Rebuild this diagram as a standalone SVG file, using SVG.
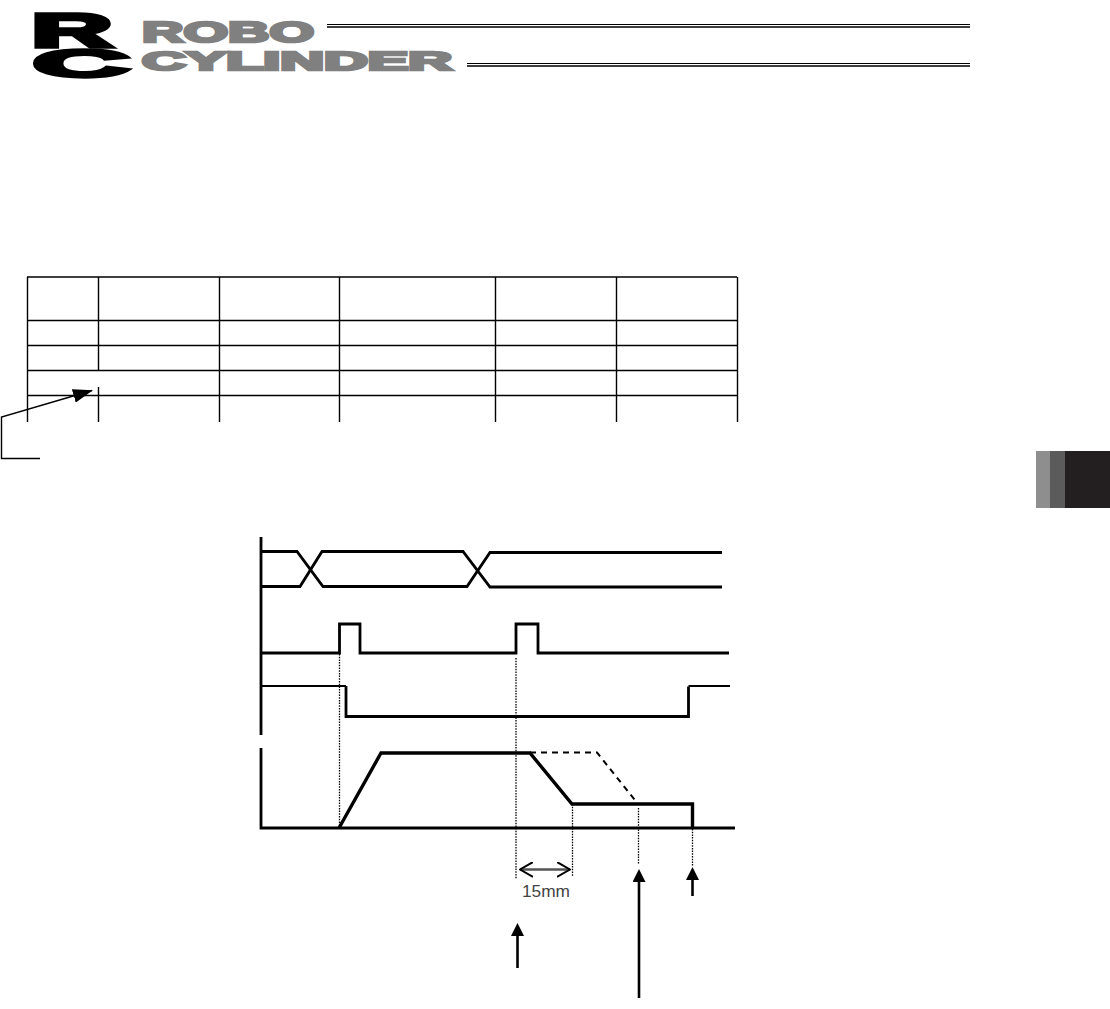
<svg xmlns="http://www.w3.org/2000/svg" width="1110" height="1009" viewBox="0 0 1110 1009">
<defs>
<marker id="solid" viewBox="0 0 13 13" refX="0" refY="6.5" markerWidth="13" markerHeight="13" markerUnits="userSpaceOnUse" orient="auto"><path d="M0 0L13 6.500L0 13Z" fill="#000"/></marker>
<marker id="lead" viewBox="0 0 20 14" refX="19" refY="7" markerWidth="20" markerHeight="14" markerUnits="userSpaceOnUse" orient="auto"><path d="M0 0L20 7L0 14Z" fill="#000"/></marker>
<marker id="open" viewBox="0 0 14 16" refX="13" refY="8" markerWidth="14" markerHeight="16" markerUnits="userSpaceOnUse" orient="auto-start-reverse"><path d="M0 .5L13 8L0 15.500" fill="none" stroke="#000" stroke-width="2"/></marker>
</defs>
<style>
.thin{fill:none;stroke:#000;stroke-width:1.4}
.wave{fill:none;stroke:#000;stroke-width:2.8;stroke-linejoin:miter}
.shaft{fill:none;stroke:#000;stroke-width:2.6}
.heavy{fill:none;stroke:#000;stroke-width:3.4;stroke-linejoin:miter}
.mid{fill:none;stroke:#000;stroke-width:2}
.dot{fill:none;stroke:#000;stroke-width:1.3;stroke-dasharray:1.5 1.2}
.logo{font-family:"Liberation Sans",Arial,sans-serif;font-weight:700}
.grey{fill:#808080;stroke:#808080;stroke-width:2.6;stroke-linejoin:miter}
.blk{fill:#000;stroke:#000;stroke-width:5}
</style>
<rect width="1110" height="1009" fill="#fff"/>
<g id="logo">
<text class="logo blk" transform="translate(31 47) scale(1.32 .7)" font-size="68" x="0" y="0" textLength="62" lengthAdjust="spacingAndGlyphs">R</text>
<text class="logo blk" transform="translate(33 76.500) scale(1.42 .66)" font-size="60" x="0" y="0" textLength="68" lengthAdjust="spacingAndGlyphs">C</text>
<text class="logo grey" x="142" y="42" font-size="29" textLength="172" lengthAdjust="spacingAndGlyphs">ROBO</text>
<text class="logo grey" x="142" y="69.500" font-size="26" textLength="310" lengthAdjust="spacingAndGlyphs">CYLINDER</text>
<path d="M327 24.500H970M467 63.500H970" stroke="#000" stroke-width="1" fill="none"/>
<path d="M327 27H970M467 66H970" stroke="#000" stroke-width="1.6" fill="none"/>
</g>
<g id="tab">
<rect x="1036" y="451" width="14" height="57" fill="#8f8e8e"/>
<rect x="1050" y="451" width="15" height="57" fill="#5c5b5b"/>
<rect x="1065" y="451" width="45" height="57" fill="#231f20"/>
</g>
<g id="table">
<path class="thin" d="M27 277H737M27 320.500H737M27 345.500H737M27 370.500H737M27 395.500H737"/>
<path class="thin" d="M27.500 277V422M98.500 277V371M98.500 387V422M219.500 277V422M339.500 277V422M495.500 277V422M616.500 277V422M737.500 277V422"/>
</g>
<g id="connectors">
<path class="thin" d="M40 458.500H1.500V417L92 390.500" marker-end="url(#lead)"/>
<path class="wave" d="M261 551.500H297L323 586.500H467L490 552.500H722"/>
<path class="wave" d="M261 586.500H300L322 551.500H463L490 587H722"/>
<path class="wave" d="M261 653H339.500V624H360V653H516V624H538V653H729"/>
<path class="mid" d="M261 686H346"/>
<path class="wave" d="M346 686V716.500H688.500V686.500"/>
<path class="mid" d="M688.500 686H730"/>
<path class="heavy" d="M339 828L381 753H530L572 804H692.500V828"/>
<path d="M530 752.500H597L638 804" fill="none" stroke="#000" stroke-width="2" stroke-dasharray="6 5"/>
<path class="wave" d="M261 537V735M261 748V828H735"/>
<path class="dot" d="M339.500 654V828M516 658V879M572.500 804V877M638.500 808V864M692.500 829V866"/>
<path d="M520 869.500H570" fill="none" stroke="#555" stroke-width="2.500" marker-start="url(#open)" marker-end="url(#open)"/>
<path class="shaft" d="M517.500 968V936" marker-end="url(#solid)"/>
<path class="shaft" d="M639 998V882" marker-end="url(#solid)"/>
<path class="shaft" d="M692.500 896V880" marker-end="url(#solid)"/>
</g>
<g id="label"><text x="522" y="897" font-family="'Liberation Sans',Arial,sans-serif" font-size="17" textLength="48" lengthAdjust="spacingAndGlyphs" fill="#444">15mm</text></g>
</svg>
